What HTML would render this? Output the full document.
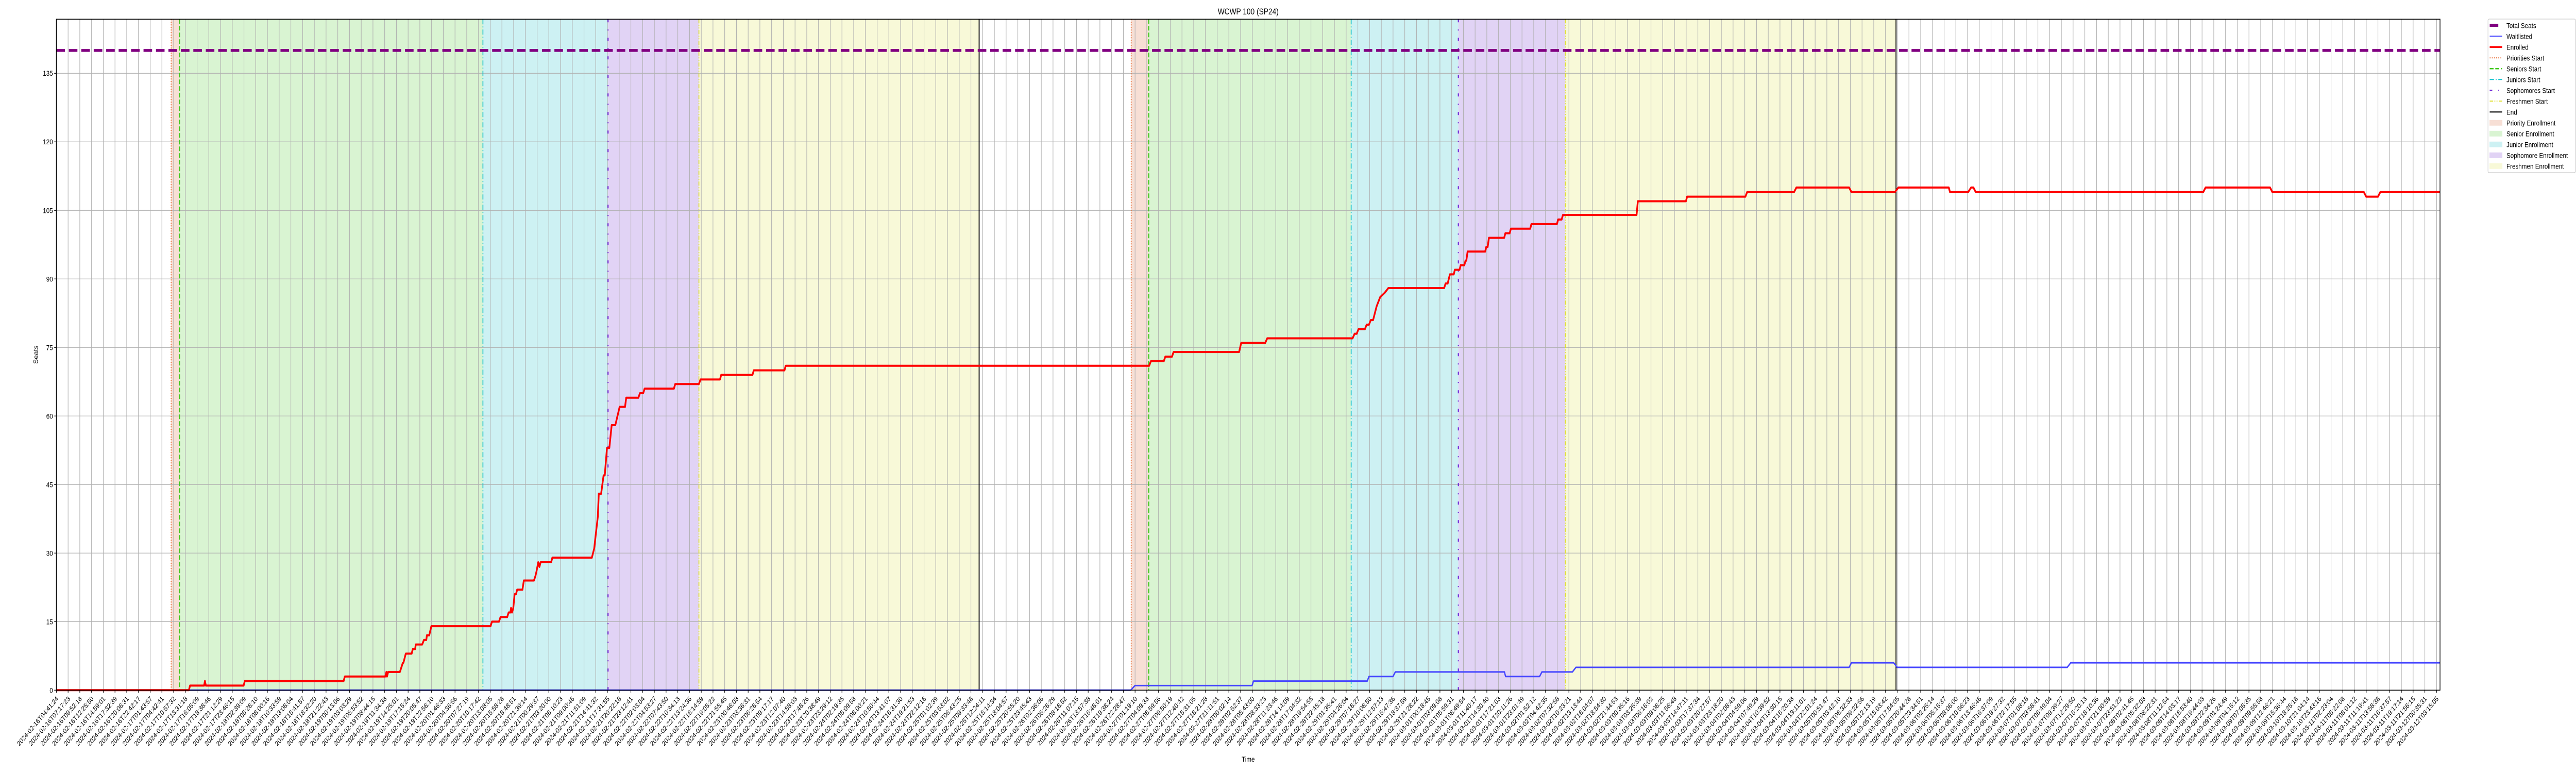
<!DOCTYPE html>
<html><head><meta charset="utf-8"><title>WCWP 100 (SP24)</title>
<style>html,body{margin:0;padding:0;background:#fff;width:100%;height:100%;overflow:hidden}svg{display:block;position:absolute;left:0;top:0;width:100vw;height:100vh;overflow:hidden;font-family:"Liberation Sans","DejaVu Sans",sans-serif}</style>
</head><body>
<svg id="chart" viewBox="0 0 6000 1500" preserveAspectRatio="none" xmlns="http://www.w3.org/2000/svg">
<defs><clipPath id="pageclip"><rect x="0" y="0" width="6000" height="1500"/></clipPath></defs>
<rect width="6000" height="1500" fill="#fff"/>
<g clip-path="url(#pageclip)">
<g id="bands"></g><g id="grid"></g><g id="vlines"></g><g id="series"></g><g id="axes"></g><g id="legend"></g>
</g>
</svg>
<script>
// ---- data ----
const totalSeats = 140;
const yTicks = [0,15,30,45,60,75,90,105,120,135];
const tickLabelsHead = ["2024-02-16T04:41:24","2024-02-16T07:17:23","2024-02-16T09:52:18","2024-02-16T12:25:50","2024-02-16T14:59:01","2024-02-16T17:32:39","2024-02-16T20:06:31","2024-02-16T22:42:17","2024-02-17T01:43:57","2024-02-17T04:42:41","2024-02-17T10:57:32","2024-02-17T13:31:18","2024-02-17T16:05:09","2024-02-17T18:38:46","2024-02-17T21:12:29","2024-02-17T23:46:15","2024-02-18T02:39:09","2024-02-18T05:26:10","2024-02-18T08:00:16","2024-02-18T10:33:59","2024-02-18T13:08:04","2024-02-18T15:41:57"];
const tickLabelsTail = ["2024-03-10T18:25:18","2024-03-10T21:04:14","2024-03-10T23:43:16","2024-03-11T02:23:04","2024-03-11T05:22:08","2024-03-11T08:01:12","2024-03-11T11:19:41","2024-03-11T13:58:38","2024-03-11T16:37:57","2024-03-11T19:17:14","2024-03-11T21:56:15","2024-03-12T00:35:31","2024-03-12T03:15:05"];
const tickCount = 204;
const markerNames = ["Priorities Start","Seniors Start","Juniors Start","Sophomores Start","Freshmen Start","End"];
const markerIdx1 = [9.79,10.5,36.38,47.05,54.8,78.7];
const markerIdx2 = [91.67,93.16,110.43,119.57,128.7,156.9];
const enrolledX = [0,11.3,11.4,12.6,12.67,12.75,15.97,16.07,24.5,24.6,28.05,28.15,28.2,28.3,29.3,29.55,29.6,29.8,30.3,30.4,30.6,30.65,31.2,31.35,31.55,31.6,31.8,31.98,37.03,37.15,37.75,37.88,38.45,38.57,38.72,38.78,38.86,38.97,39.08,39.2,39.3,39.75,39.87,40.73,40.86,40.95,41.1,41.2,41.3,42.2,42.3,45.67,45.87,46.0,46.18,46.26,46.46,46.67,46.77,46.96,47.16,47.36,47.67,48.04,48.5,48.6,49.64,49.77,50.05,50.17,52.67,52.78,54.8,54.94,56.6,56.7,59.37,59.48,62.1,62.2,93.2,93.35,94.45,94.58,95.15,95.28,100.87,101.05,103.1,103.27,110.55,110.72,110.9,111.05,111.6,111.75,111.95,112.1,112.3,112.6,112.9,113.3,113.6,118.36,118.48,118.66,118.85,119.18,119.27,119.67,119.77,120.08,120.18,120.25,120.36,121.86,121.95,122.07,122.18,123.48,123.58,123.95,124.05,125.7,125.8,127.98,128.08,128.38,128.49,134.77,134.88,138.98,139.08,144.05,144.2,148.2,148.4,152.9,153.1,156.8,157.1,161.4,161.5,163.05,163.3,163.5,163.7,183.1,183.3,188.8,189.0,196.8,197.0,198.0,198.2,203.28];
const enrolledY = [0,0,1,1,2,1,1,2,2,3,3,4,3,4,4,6,6,8,8,9,9,10,10,11,11,12,12,14,14,15,15,16,16,17,17,18,17,18,21,21,22,22,24,24,25,26,28,27,28,28,29,29,31,34,38,43,43,47,47,53,53,58,58,62,62,64,64,65,65,66,66,67,67,68,68,69,69,70,70,71,71,72,72,73,73,74,74,76,76,77,77,78,78,79,79,80,80,81,81,84,86,87,88,88,89,89,91,91,92,92,93,93,94,94,96,96,97,97,99,99,100,100,101,101,102,102,103,103,104,104,107,107,108,108,109,109,110,110,109,109,110,110,109,109,110,110,109,109,110,110,109,109,108,108,109,109];
const waitX = [0,91.63,91.99,101.98,102.1,111.8,111.95,114.0,114.2,123.5,123.6,126.5,126.7,129.3,129.6,152.9,153.1,156.7,157.0,171.5,171.8,203.28];
const waitY = [0,0,1,1,2,2,3,3,4,4,3,3,4,4,5,5,6,6,5,5,6,6];

// ---- layout ----
const L=131.3, R=5683.3, T=37.3, B=1339.3, S=27.31, YU=8.867;
const X = i => L + i*S;
const Y = v => B - v*YU;
const NS="http://www.w3.org/2000/svg";
function mk(tag, attrs, parent){const e=document.createElementNS(NS,tag);for(const k in attrs)e.setAttribute(k,attrs[k]);parent.appendChild(e);return e;}

const tickLabels=[];
for(let i=0;i<tickCount;i++){
  if(i<tickLabelsHead.length) tickLabels.push(tickLabelsHead[i]);
  else if(i>=tickCount-tickLabelsTail.length) tickLabels.push(tickLabelsTail[i-(tickCount-tickLabelsTail.length)]);
  else {
    const base=Date.UTC(2024,1,18,15,41,57), k=i-(tickLabelsHead.length-1);
    const d=new Date(base+k*10223000);
    tickLabels.push(d.toISOString().slice(0,19));
  }
}

const bands=document.getElementById('bands'), grid=document.getElementById('grid'), vl=document.getElementById('vlines'), ser=document.getElementById('series'), ax=document.getElementById('axes'), lg=document.getElementById('legend');
const bandColors=["#f7dfd5","#d9f4d2","#cdf1f3","#e1d3f5","#f8f9d8"];
const bandNames=["priority-enrollment-band","senior-enrollment-band","junior-enrollment-band","sophomore-enrollment-band","freshmen-enrollment-band"];
[markerIdx1,markerIdx2].forEach(m=>{
  for(let b=0;b<5;b++){
    const r=mk('rect',{x:X(m[b]),y:T,width:X(m[b+1])-X(m[b]),height:B-T,fill:bandColors[b]},bands);
    
    
  }
});
for(let i=0;i<tickCount;i++){
  const g=mk('line',{x1:X(i),x2:X(i),y1:T,y2:B,stroke:"#b0b0b0","stroke-width":1.3},grid);
  
  
}
yTicks.forEach(v=>{
  const g=mk('line',{x1:L,x2:R,y1:Y(v),y2:Y(v),stroke:"#b0b0b0","stroke-width":1.3},grid);
  
  
});
const mColors=["#e8672c","#3fc81c","#17c3cf","#6c22d6","#e0e030","#000"];
const mDash=["2 3","9 4","10 4 2 4","6 14 2 14","8 3 2 3 2 3",""];
const mWidth=[2,2.5,2,2.5,2,2.2];
[markerIdx1,markerIdx2].forEach(m=>{
  m.forEach((v,j)=>{
    const a={x1:X(v),x2:X(v),y1:T,y2:B,stroke:mColors[j],"stroke-width":mWidth[j]};
    if(mDash[j])a["stroke-dasharray"]=mDash[j];
    const l=mk('line',a,vl);
    
    
  });
});
const ts=mk('line',{x1:L,x2:R,y1:Y(totalSeats),y2:Y(totalSeats),stroke:"#800080","stroke-width":5.5,"stroke-dasharray":"20 9"},ser);


const wp=mk('polyline',{points:waitX.map((x,i)=>X(x)+','+Y(waitY[i])).join(' '),fill:"none",stroke:"#4545ff","stroke-width":3,"stroke-linejoin":"round"},ser);


const ep=mk('polyline',{points:enrolledX.map((x,i)=>X(x)+','+Y(enrolledY[i])).join(' '),fill:"none",stroke:"#ff0000","stroke-width":4,"stroke-linejoin":"round"},ser);


const fr=mk('rect',{x:L,y:T,width:R-L,height:B-T,fill:"none",stroke:"#000","stroke-width":1.6},ax);


yTicks.forEach(v=>{
  mk('line',{x1:L-5,x2:L,y1:Y(v),y2:Y(v),stroke:"#000","stroke-width":1.3},ax);
  const t=mk('text',{x:L-8,y:Y(v)+5,"text-anchor":"end","font-size":14,fill:"#000"},ax);
  t.textContent=v;
  
  
});
for(let i=0;i<tickCount;i++){
  const x=X(i);
  mk('line',{x1:x,x2:x,y1:B,y2:B+5,stroke:"#000","stroke-width":1.3},ax);
  const t=mk('text',{x:x+2,y:B+19,"text-anchor":"end","font-size":13.5,fill:"#000",transform:`rotate(-45 ${x+2} ${B+14})`},ax);
  t.textContent=tickLabels[i];
  
  
}
const title=mk('text',{x:(L+R)/2,y:28,"text-anchor":"middle","font-size":16.5,fill:"#000"},ax);
title.textContent="WCWP 100 (SP24)";


const xl=mk('text',{x:(L+R)/2,y:1478,"text-anchor":"middle","font-size":14,fill:"#000"},ax);
xl.textContent="Time";


const yl=mk('text',{x:88,y:(T+B)/2,"text-anchor":"middle","font-size":14,fill:"#000",transform:`rotate(-90 88 ${(T+B)/2})`},ax);
yl.textContent="Seats";


const lbox=mk('rect',{x:5795,y:37,width:204,height:298,rx:3,fill:"#fff","fill-opacity":0.8,stroke:"#ccc","stroke-width":1.3},lg);


const legLabels=["Total Seats","Waitlisted","Enrolled","Priorities Start","Seniors Start","Juniors Start","Sophomores Start","Freshmen Start","End","Priority Enrollment","Senior Enrollment","Junior Enrollment","Sophomore Enrollment","Freshmen Enrollment"];
legLabels.forEach((lab,i)=>{
  const cy=49.3+i*21;
  const g=mk('g',{},lg);
  
  
  if(i===0) mk('line',{x1:5799,x2:5819,y1:cy,y2:cy,stroke:"#800080","stroke-width":5.5},g);
  else if(i===1) mk('line',{x1:5799,x2:5828,y1:cy,y2:cy,stroke:"#4545ff","stroke-width":2},g);
  else if(i===2) mk('line',{x1:5799,x2:5828,y1:cy,y2:cy,stroke:"#ff0000","stroke-width":3.5},g);
  else if(i<9){const j=i-3;const a={x1:5799,x2:5828,y1:cy,y2:cy,stroke:mColors[j],"stroke-width":mWidth[j]};if(mDash[j])a["stroke-dasharray"]=mDash[j];mk('line',a,g);}
  else mk('rect',{x:5799,y:cy-5,width:29,height:10,fill:bandColors[i-9],stroke:bandColors[i-9]},g);
  const t=mk('text',{x:5838,y:cy+5,"font-size":14,fill:"#000"},g);
  t.textContent=lab;
});
</script>
</body></html>
